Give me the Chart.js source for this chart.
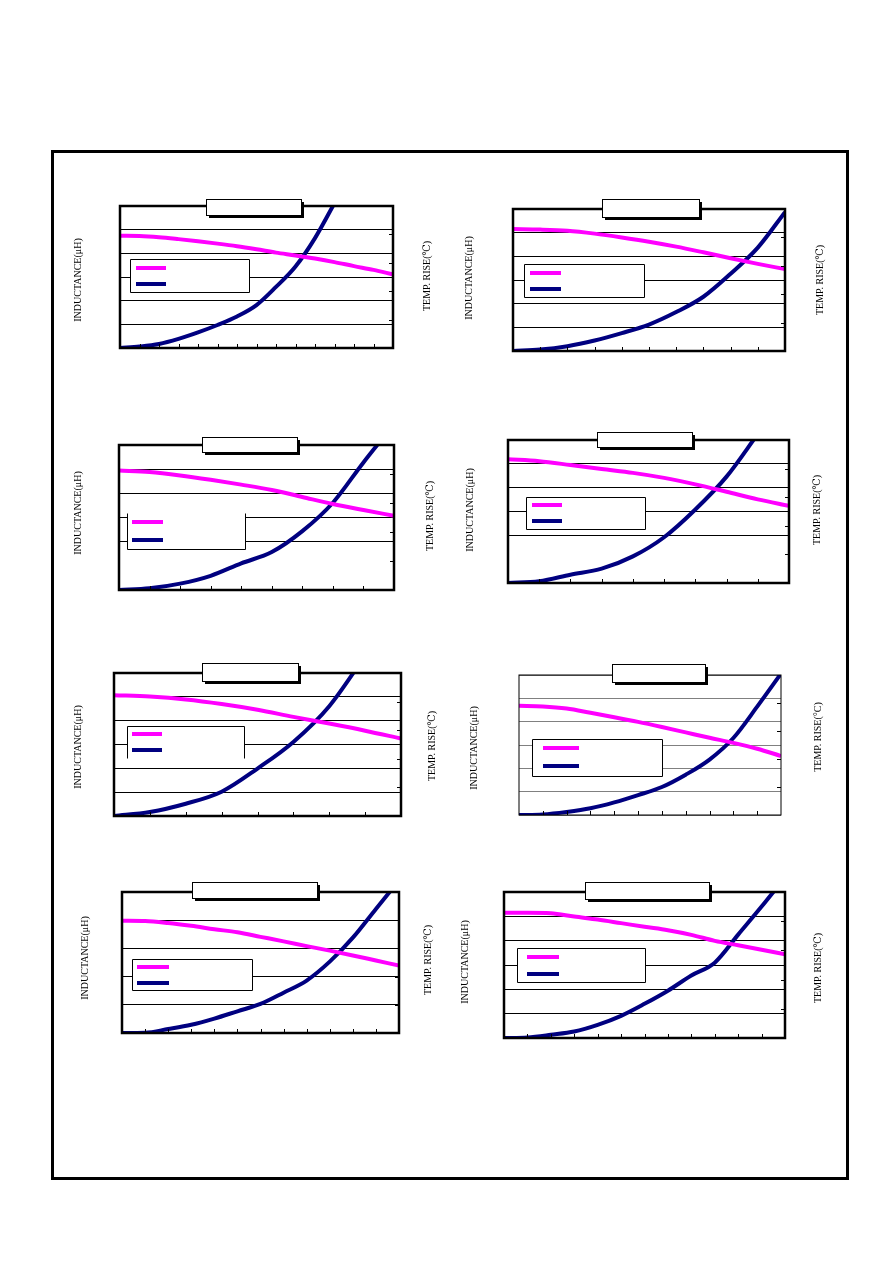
<!DOCTYPE html>
<html>
<head>
<meta charset="utf-8">
<script src="https://cdn.jsdelivr.net/npm/chart.js@4/dist/chart.umd.min.js"></script>
<style>
body{margin:0;background:#fff;width:892px;height:1261px;position:relative;overflow:hidden}
#frame{position:absolute;left:51px;top:150px;width:792px;height:1024px;border:3px solid #000}
canvas{position:absolute}
</style>
</head>
<body>
<div id="frame"></div>
<script>
// axis texts
const inductanceLabel = "INDUCTANCE(μH)";
const tempLabel = "TEMP. RISE(℃)";
const tempLabelAlt = "TEMP. RISE(°C)";

// values, in grid units (no tick labels on the sheet)
const current1 = [0,1,2,3,4,5,6,7,8,9,10,11,12,13,14];
const inductance1 = [4.74,4.73,4.68,4.60,4.51,4.41,4.30,4.17,4.03,3.91,3.78,3.63,3.46,3.30,3.11];
const tempRise1 = [0,0.05,0.14,0.32,0.55,0.81,1.11,1.51,2.15,2.87,3.87,5.1];

const current2 = [0,1,2,3,4,5,6,7,8,9,10];
const inductance2 = [5.15,5.13,5.08,4.96,4.80,4.62,4.41,4.17,3.92,3.68,3.46];
const tempRise2 = [0,0.05,0.17,0.37,0.63,0.93,1.37,1.91,2.72,3.64,4.89];

const current3 = [0,1,2,3,4,5,6,7,8,9];
const inductance3 = [4.94,4.88,4.74,4.56,4.36,4.14,3.85,3.56,3.31,3.07];
const tempRise3 = [0,0.06,0.22,0.49,0.92,1.31,2.03,3.01,4.40,5.72];

const current4 = [0,1,2,3,4,5,6,7,8,9];
const inductance4 = [5.19,5.11,4.95,4.78,4.62,4.41,4.14,3.83,3.51,3.24];
const tempRise4 = [0,0.06,0.29,0.50,0.93,1.60,2.57,3.72,5.21];

const current5 = [0,1,2,3,4,5,6,7,8];
const inductance5 = [5.07,5.01,4.89,4.70,4.46,4.16,3.88,3.58,3.25];
const tempRise5 = [0,0.14,0.43,0.85,1.66,2.59,3.84,5.6];

const current6 = [0,1,2,3,4,5,6,7,8,9,10,11];
const inductance6 = [4.68,4.65,4.56,4.38,4.19,3.99,3.77,3.54,3.31,3.09,2.84,2.53];
const tempRise6 = [0,0.02,0.11,0.24,0.45,0.71,1.00,1.44,1.98,2.75,3.87,5.05];

const current7 = [0,1,2,3,4,5,6,7,8,9,10,11,12];
const inductance7 = [3.98,3.97,3.90,3.80,3.68,3.57,3.41,3.25,3.08,2.92,2.75,2.57,2.39];
const tempRise7 = [0,0.01,0.14,0.29,0.51,0.77,1.03,1.43,1.86,2.53,3.38,4.40,5.41];

const current8 = [0,1,2,3,4,5,6,7,8,9,10,11,12];
const inductance8 = [5.15,5.15,5.13,4.99,4.87,4.72,4.57,4.43,4.24,3.99,3.81,3.63,3.44];
const tempRise8 = [0,0.02,0.11,0.22,0.45,0.76,1.17,1.62,2.14,2.58,3.54,4.50,5.50];

// axis divisions per panel
const inductanceMax = [6,6,6,6,6,6,5,6];
const tempMax = [5,5,5,5,5,5,5,5];

const currents = [current1,current2,current3,current4,current5,current6,current7,current8];
const inductances = [inductance1,inductance2,inductance3,inductance4,inductance5,inductance6,inductance7,inductance8];
const tempRises = [tempRise1,tempRise2,tempRise3,tempRise4,tempRise5,tempRise6,tempRise7,tempRise8];

// page layout of each panel (page pixels)
const panels = [
  {plot:[120,206,393,348], title:[206,199,301,215], legend:[130,259,249,292], sides:'tlrb', sample:[136,166,268,284], left:[78,280], right:[427,276]},
  {plot:[513,209,785,351], title:[602,199,699,217], legend:[524,264,644,297], sides:'tlrb', sample:[530,561,273,289], left:[469,278], right:[820,280]},
  {plot:[119,445,394,590], title:[202,437,297,452], legend:[127,513,245,549], sides:'lrb', sample:[132,163,522,540], left:[78,513], right:[430,516], skipGrid:[1]},
  {plot:[508,440,789,583], title:[597,432,692,447], legend:[526,497,645,529], sides:'tlrb', sample:[532,562,505,521], left:[470,510], right:[817,510], skipGrid:[1]},
  {plot:[114,673,401,816], title:[202,663,298,681], legend:[127,726,244,758], sides:'tlr', sample:[132,162,734,750], left:[78,747], right:[432,746]},
  {plot:[519,675,781,815], title:[612,664,705,682], legend:[532,739,662,776], sides:'tlrb', sample:[543,579,748,766], left:[474,748], right:[818,737], gridColor:'#808080', frame:1, altTemp:true},
  {plot:[122,892,399,1033], title:[192,882,317,898], legend:[132,959,252,990], sides:'tlrb', sample:[137,169,967,983], left:[85,958], right:[428,960]},
  {plot:[504,892,785,1038], title:[585,882,709,899], legend:[517,948,645,982], sides:'tlrb', sample:[527,559,957,974], left:[465,962], right:[818,968]}
];

const PAD = {left:60, right:50, top:20, bottom:15};
const labelFont = '10px "Liberation Serif", "DejaVu Serif", serif';

function makeDecor(p, idx) {
  const ox = p.plot[0] - PAD.left, oy = p.plot[1] - PAD.top;
  return {
    id: 'decor' + idx,
    beforeDatasetsDraw(chart) {
      const ctx = chart.ctx;
      const [x1, y1, x2, y2] = p.legend;
      ctx.save();
      ctx.fillStyle = '#fff';
      ctx.fillRect(x1 - ox, y1 - oy, x2 - x1, y2 - y1);
      ctx.strokeStyle = '#000';
      ctx.lineWidth = 1;
      const L = x1 - ox + 0.5, R = x2 - ox + 0.5, T = y1 - oy + 0.5, B = y2 - oy + 0.5;
      ctx.beginPath();
      if (p.sides.includes('t')) { ctx.moveTo(L, T); ctx.lineTo(R, T); }
      if (p.sides.includes('b')) { ctx.moveTo(L, B); ctx.lineTo(R, B); }
      if (p.sides.includes('l')) { ctx.moveTo(L, T); ctx.lineTo(L, B); }
      if (p.sides.includes('r')) { ctx.moveTo(R, T); ctx.lineTo(R, B); }
      ctx.stroke();
      // legend samples
      const [sx1, sx2, sy1, sy2] = p.sample;
      ctx.lineWidth = 4;
      chart.data.datasets.forEach((ds, i) => {
        const sy = (i === 0 ? sy1 : sy2) - oy;
        ctx.strokeStyle = ds.borderColor;
        ctx.beginPath();
        ctx.moveTo(sx1 - ox, sy);
        ctx.lineTo(sx2 - ox, sy);
        ctx.stroke();
      });
      ctx.restore();
    },
    afterDatasetsDraw(chart) {
      const ctx = chart.ctx;
      const a = chart.chartArea;
      const xs = chart.scales.x, ys2 = chart.scales.y2;
      ctx.save();
      ctx.strokeStyle = '#000';
      // inward ticks on bottom and right
      ctx.lineWidth = 1;
      ctx.beginPath();
      for (let v = xs.min + 1; v < xs.max; v++) {
        const px = Math.round(xs.getPixelForValue(v)) + 0.5;
        ctx.moveTo(px, a.bottom);
        ctx.lineTo(px, a.bottom - 4);
      }
      for (let v = ys2.min + 1; v < ys2.max; v++) {
        const py = Math.round(ys2.getPixelForValue(v)) + 0.5;
        ctx.moveTo(a.right, py);
        ctx.lineTo(a.right - 4, py);
      }
      ctx.stroke();
      // plot frame
      ctx.lineWidth = p.frame || 2.5;
      ctx.strokeRect(a.left, a.top, a.right - a.left, a.bottom - a.top);
      // title box with shadow
      const [tx1, ty1, tx2, ty2] = p.title;
      ctx.fillStyle = '#000';
      ctx.fillRect(tx1 - ox + 3, ty1 - oy + 3, tx2 - tx1, ty2 - ty1);
      ctx.fillStyle = '#fff';
      ctx.fillRect(tx1 - ox, ty1 - oy, tx2 - tx1, ty2 - ty1);
      ctx.lineWidth = 1;
      ctx.strokeRect(tx1 - ox + 0.5, ty1 - oy + 0.5, tx2 - tx1, ty2 - ty1);
      // axis labels, both reading bottom to top
      ctx.fillStyle = '#000';
      ctx.font = labelFont;
      ctx.textAlign = 'center';
      ctx.textBaseline = 'middle';
      [[p.left, inductanceLabel], [p.right, p.altTemp ? tempLabelAlt : tempLabel]].forEach(([pos, txt]) => {
        ctx.save();
        ctx.translate(pos[0] - ox, pos[1] - oy);
        ctx.rotate(-Math.PI / 2);
        ctx.fillText(txt, 0, 0);
        ctx.restore();
      });
      ctx.restore();
    }
  };
}

panels.forEach((p, i) => {
  const cur = currents[i], ind = inductances[i], temp = tempRises[i];
  const canvas = document.createElement('canvas');
  const w = p.plot[2] - p.plot[0] + PAD.left + PAD.right;
  const h = p.plot[3] - p.plot[1] + PAD.top + PAD.bottom;
  canvas.width = w;
  canvas.height = h;
  canvas.style.left = (p.plot[0] - PAD.left) + 'px';
  canvas.style.top = (p.plot[1] - PAD.top) + 'px';
  canvas.style.width = w + 'px';
  canvas.style.height = h + 'px';
  document.body.appendChild(canvas);

  const skip = p.skipGrid || [];
  new Chart(canvas, {
    type: 'line',
    data: {
      datasets: [
        {label: 'INDUCTANCE', data: ind.map((v, k) => ({x: cur[k], y: v})), borderColor: '#ff00ff', yAxisID: 'y'},
        {label: 'TEMP. RISE', data: temp.map((v, k) => ({x: cur[k], y: v})), borderColor: '#000080', yAxisID: 'y2'}
      ]
    },
    options: {
      responsive: false,
      animation: false,
      layout: {padding: PAD},
      elements: {
        point: {radius: 0},
        line: {borderWidth: 4, cubicInterpolationMode: 'monotone', borderCapStyle: 'butt'}
      },
      plugins: {legend: {display: false}, tooltip: {enabled: false}},
      scales: {
        x: {type: 'linear', display: false, min: 0, max: cur[cur.length - 1]},
        y: {
          min: 0, max: inductanceMax[i],
          ticks: {display: false, stepSize: 1},
          grid: {
            drawTicks: false,
            color: c => skip.includes(c.tick.value) ? 'rgba(0,0,0,0)' : (p.gridColor || '#000'),
            lineWidth: 1
          },
          border: {display: false}
        },
        y2: {position: 'right', display: false, min: 0, max: tempMax[i]}
      }
    },
    plugins: [makeDecor(p, i)]
  });
});
</script>
</body>
</html>
